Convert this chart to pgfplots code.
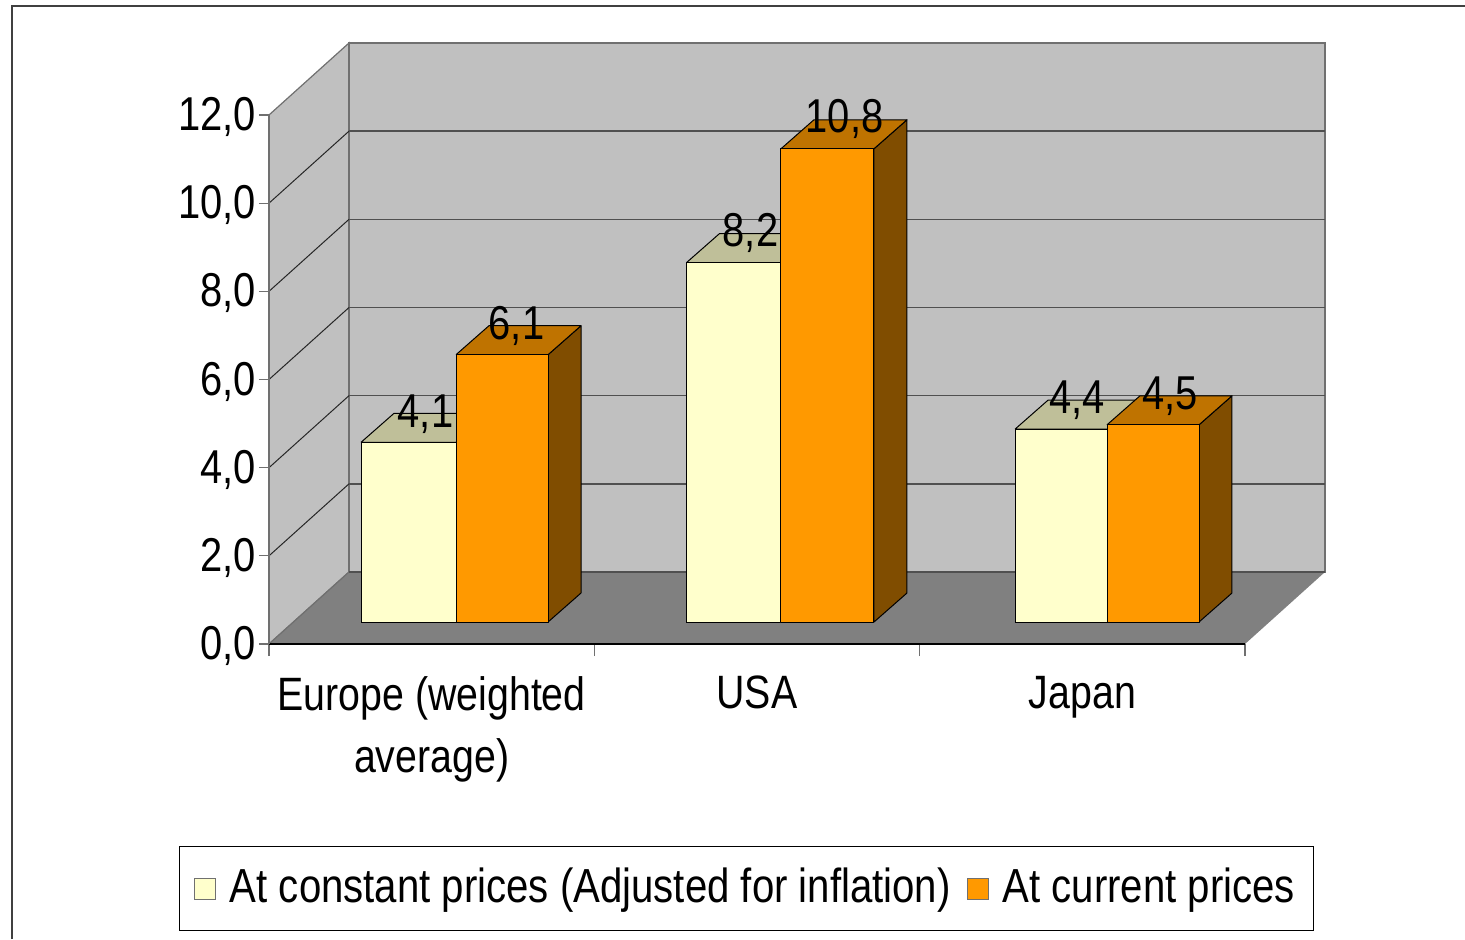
\documentclass[border=0pt]{standalone}
\usepackage{fontspec}
\setmainfont[FakeStretch=0.84]{Liberation Sans}
\usepackage{pgfplots}
\pgfplotsset{compat=1.18}
\definecolor{wall}{HTML}{C0C0C0}
\definecolor{floorc}{HTML}{808080}
\definecolor{gridc}{HTML}{505050}
\definecolor{edgec}{HTML}{707070}
\definecolor{creamF}{HTML}{FFFFCC}
\definecolor{creamT}{HTML}{BFBF99}
\definecolor{creamS}{HTML}{808066}
\definecolor{orangeF}{HTML}{FF9900}
\definecolor{orangeT}{HTML}{BF7300}
\definecolor{orangeS}{HTML}{804D00}
% depth of the whole plot and of one bar, in axis units
\def\wallDX{0.2459}\def\wallDY{1.6334}
\def\barDX{0.1014}\def\barDY{0.6579}\def\barBase{0.4991}
% \threedbar{left}{right}{value}{front}{top}{side}
\newcommand{\threedbar}[6]{%
  \pgfmathsetmacro{\xa}{#1}\pgfmathsetmacro{\xb}{#2}%
  \pgfmathsetmacro{\ya}{\barBase}\pgfmathsetmacro{\yb}{\barBase+0.994*#3}%
  \pgfmathsetmacro{\xc}{\xb+\barDX}\pgfmathsetmacro{\xd}{\xa+\barDX}%
  \pgfmathsetmacro{\yc}{\ya+\barDY}\pgfmathsetmacro{\yd}{\yb+\barDY}%
  \addplot[fill=#6,draw=black,line width=0.5pt,line join=round] coordinates {(\xb,\ya)(\xc,\yc)(\xc,\yd)(\xb,\yb)(\xb,\ya)};
  \addplot[fill=#5,draw=black,line width=0.5pt,line join=round] coordinates {(\xa,\yb)(\xb,\yb)(\xc,\yd)(\xd,\yd)(\xa,\yb)};
  \addplot[fill=#4,draw=black,line width=0.5pt,line join=round] coordinates {(\xa,\ya)(\xb,\ya)(\xb,\yb)(\xa,\yb)(\xa,\ya)};
}
\begin{document}
\fontsize{23.75}{31}\selectfont
\begin{tikzpicture}
\path[use as bounding box] (-134.5pt,-147.5pt) rectangle (598pt,322pt);
\draw[color=black!75,line width=1pt] (-128.5pt,-147.5pt) -- (-128.5pt,319pt) -- (598pt,319pt);
\begin{axis}[
  at={(0,0)},anchor=origin,
  scale only axis,width=488pt,height=264.5pt,
  xmin=0,xmax=3,ymin=0,ymax=12,
  clip=false,axis on top,
  axis x line*=bottom,axis y line*=left,
  x axis line style={-,black,line width=0.6pt},
  y axis line style={-,edgec,line width=0.8pt},
  tick align=outside,
  major tick length=5pt,
  xtick={0,1,2,3},
  x tick label as interval,
  xticklabels={{Europe (weighted\\average)},USA,Japan},
  x tick label style={align=center,font=\fontsize{23.4}{31}\selectfont,yshift=-3pt},
  xtick style={edgec,line width=0.6pt},
  major x tick style={/pgfplots/major tick length=6pt},
  ytick={0,2,4,6,8,10,12},
  ytick style={edgec,line width=0.6pt},
  y tick label style={font=\fontsize{23.75}{31}\selectfont,xshift=6.5pt,yshift=-1pt,
    /pgf/number format/.cd,fixed,fixed zerofill,precision=1,use comma,assume math mode=true},
  legend entries={At constant prices (Adjusted for inflation),At current prices},
  legend columns=2,
  legend cell align=left,
  legend style={at={(0.4892,-0.4625)},anchor=center,draw=black,line width=0.5pt,
    font=\fontsize{23.9}{31}\selectfont,
    inner xsep=7pt,inner ysep=8.5pt,
    /tikz/every odd column/.append style={column sep=5pt},
    /tikz/every even column/.append style={column sep=6pt}},
]
\addlegendimage{legend image code/.code={\draw[edgec,fill=creamF,line width=0.5pt] (0pt,-5.25pt) rectangle (10.5pt,5.25pt);}}
\addlegendimage{legend image code/.code={\draw[edgec,fill=orangeF,line width=0.5pt] (0pt,-5.25pt) rectangle (10.5pt,5.25pt);}}

% walls and floor
\addplot[fill=wall,draw=edgec,line width=0.6pt] coordinates {(0,0)(0.2459,1.6334)(0.2459,13.6334)(0,12)(0,0)};
\addplot[fill=wall,draw=edgec,line width=0.6pt] coordinates {(0.2459,1.6334)(3.2459,1.6334)(3.2459,13.6334)(0.2459,13.6334)(0.2459,1.6334)};
\addplot[fill=floorc,draw=none] coordinates {(0,0)(3,0)(3.2459,1.6334)(0.2459,1.6334)(0,0)};
\addplot[edgec,line width=0.6pt] coordinates {(0,0)(0.2459,1.6334)};
\addplot[gridc,line width=0.7pt] coordinates {(0.2459,1.6334)(3.2459,1.6334)};
% gridlines
\pgfplotsinvokeforeach{2,4,6,8,10}{
  \pgfmathsetmacro{\gb}{#1+\wallDY}
  \addplot[black!85,line width=0.5pt] coordinates {(0,#1)(0.2459,\gb)};
  \addplot[gridc,line width=0.7pt] coordinates {(0.2459,\gb)(3.2459,\gb)};
}
% bars: x positions, value, colours
\threedbar{0.2828}{0.5748}{4.1}{creamF}{creamT}{creamS}
\threedbar{0.5748}{0.8577}{6.1}{orangeF}{orangeT}{orangeS}
\threedbar{1.2830}{1.5737}{8.2}{creamF}{creamT}{creamS}
\threedbar{1.5737}{1.8596}{10.8}{orangeF}{orangeT}{orangeS}
\threedbar{2.2930}{2.5758}{4.4}{creamF}{creamT}{creamS}
\threedbar{2.5758}{2.8586}{4.5}{orangeF}{orangeT}{orangeS}
% data labels
\addplot[draw=none,point meta=y,nodes near coords,
  nodes near coords style={anchor=center,inner sep=0pt,xshift=8.5pt,yshift=24.7pt,
    font=\fontsize{23.75}{31}\selectfont,
    /pgf/number format/.cd,fixed,fixed zerofill,precision=1,use comma,assume math mode=true}]
  coordinates {(0.4288,4.1)(0.7085,6.1)(1.4278,8.2)(1.7167,10.8)(2.4315,4.4)(2.7173,4.5)};
\end{axis}
\end{tikzpicture}
\end{document}
